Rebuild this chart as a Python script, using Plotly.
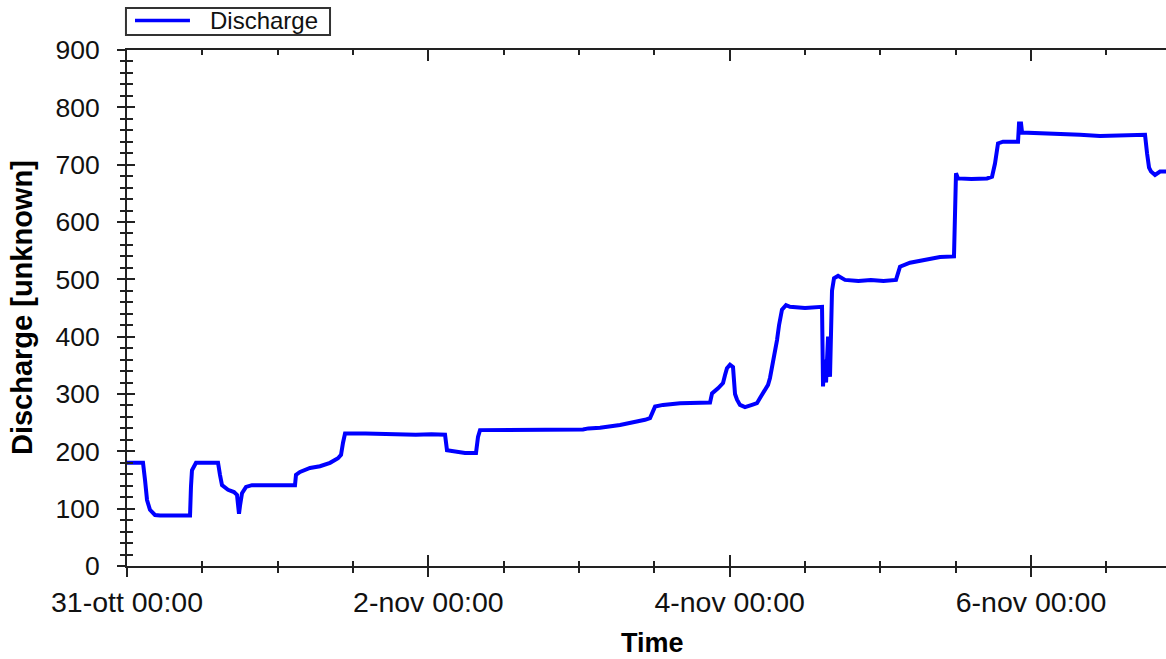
import pandas as pd
import plotly.graph_objects as go

# Discharge series: hours after 31 Oct 00:00 and the measured value
start = pd.Timestamp("2022-10-31 00:00")
hours = [
    0.0, 2.55, 2.87, 3.19, 3.66, 4.46, 5.26, 10.04, 10.19, 10.35, 10.99, 14.50,
    14.81, 15.13, 16.09, 17.04, 17.52, 17.68, 17.84, 18.00, 18.16, 18.32, 18.96,
    19.91, 26.76, 26.92, 27.56, 29.15, 30.74, 32.34, 33.61, 34.09, 34.41, 34.73,
    38.0, 40.5, 43.49, 46.0, 48.5, 50.66, 50.97, 52.25, 53.84, 55.59, 55.91,
    56.23, 64.0, 72.64, 73.5, 75.35, 78.53, 80.12, 82.51, 83.31, 84.11, 85.38,
    88.09, 92.87, 93.19, 94.14, 94.94, 95.26, 95.57, 96.05, 96.53, 96.85, 97.17,
    97.64, 98.44, 99.56, 100.35, 100.83, 101.63, 102.11, 102.42, 102.90, 103.22,
    103.54, 103.86, 104.33, 104.97, 105.61, 108.0, 110.71, 110.87, 111.03,
    111.35, 111.67, 111.98, 112.14, 112.30, 112.62, 113.26, 114.37, 116.5,
    118.5, 120.5, 122.49, 123.13, 124.72, 127.11, 129.50, 131.73, 131.89,
    132.05, 132.37, 134.5, 136.99, 137.79, 138.26, 138.74, 139.54, 141.93,
    142.09, 142.41, 142.57, 145.43, 148.62, 151.80, 154.99, 158.18, 162.16,
    162.48, 162.80, 163.12, 163.75, 164.55, 166.15,
]
discharge = [
    180, 180, 150, 115, 98, 89, 88, 88, 138, 167, 180, 180,
    159, 141, 133, 129, 124, 110, 91, 105, 120, 127, 138,
    141, 141, 159, 164, 171, 174, 180, 188, 194, 215, 231,
    231, 230, 230, 229, 230, 229, 202, 199, 197, 197, 225,
    237, 238, 238, 240, 241, 246, 249, 255, 258, 278, 281,
    284, 285, 301, 310, 319, 333, 345, 351, 347, 300, 290,
    281, 277, 281, 284, 293, 307, 316, 328, 356, 373,
    394, 420, 447, 455, 452, 450, 452, 313,
    360, 320, 400, 330, 420, 480, 502, 506, 499, 497,
    499, 497, 499, 522, 529, 534, 539, 540, 620,
    685, 676, 675, 676, 679, 702, 737, 740, 740,
    772, 772, 756, 755, 754, 752, 750, 751, 752,
    720, 695, 688, 682, 688, 688,
]
times = [start + pd.Timedelta(hours=h) for h in hours]

# Axis settings
x_end = start + pd.Timedelta(hours=165.5)
major_ticks = [start + pd.Timedelta(days=d) for d in (0, 2, 4, 6)]
major_labels = ["31-ott 00:00", "2-nov 00:00", "4-nov 00:00", "6-nov 00:00"]
y_ticks = list(range(0, 901, 100))

FONT = "Liberation Sans, Arial, sans-serif"
AXIS_COLOR = "#222222"

fig = go.Figure()
fig.add_trace(go.Scatter(
    x=times, y=discharge, mode="lines", name="Discharge",
    line=dict(color="#0000FF", width=4), showlegend=False,
))
# empty trace so the inner-tick overlay axes get drawn
fig.add_trace(go.Scatter(x=[], y=[], xaxis="x2", yaxis="y2", showlegend=False))

common_x = dict(type="date", range=[start, x_end], showgrid=False, zeroline=False)
common_y = dict(range=[0, 900], showgrid=False, zeroline=False)

fig.update_layout(
    width=1166, height=659,
    margin=dict(l=127, r=0, t=50, b=93),
    plot_bgcolor="white", paper_bgcolor="white",
    font=dict(family=FONT, size=27, color="#111111"),
    xaxis=dict(
        **common_x,
        showline=True, linecolor=AXIS_COLOR, linewidth=2, mirror=True,
        tickmode="array", tickvals=major_ticks, ticktext=major_labels,
        ticks="outside", ticklen=9, tickwidth=2, tickcolor=AXIS_COLOR,
        ticklabelstandoff=1,
        tickfont=dict(family=FONT, size=28.5, color="#111111"),
        minor=dict(ticks="outside", ticklen=5, tickwidth=2, tickcolor=AXIS_COLOR,
                   dtick=12 * 3600 * 1000, tick0=start),
    ),
    xaxis2=dict(
        **common_x, overlaying="x", anchor="y2", side="bottom",
        showline=False, showticklabels=False, mirror="ticks",
        tickmode="array", tickvals=major_ticks,
        ticks="inside", ticklen=11, tickwidth=2, tickcolor=AXIS_COLOR,
        minor=dict(ticks="inside", ticklen=5, tickwidth=2, tickcolor=AXIS_COLOR,
                   dtick=12 * 3600 * 1000, tick0=start),
    ),
    yaxis=dict(
        **common_y,
        showline=True, linecolor=AXIS_COLOR, linewidth=2,
        tickmode="array", tickvals=y_ticks,
        ticks="outside", ticklen=8, tickwidth=2, tickcolor=AXIS_COLOR,
        ticklabelstandoff=12,
        tickfont=dict(family=FONT, size=26.5, color="#111111"),
        minor=dict(ticks="outside", ticklen=5, tickwidth=2, tickcolor=AXIS_COLOR, dtick=20),
    ),
    yaxis2=dict(
        **common_y, overlaying="y", anchor="x2", side="left",
        showline=False, showticklabels=False,
        tickmode="array", tickvals=y_ticks,
        ticks="inside", ticklen=8, tickwidth=2, tickcolor=AXIS_COLOR,
        minor=dict(ticks="inside", ticklen=6, tickwidth=2, tickcolor=AXIS_COLOR, dtick=20),
    ),
)

# Axis titles
fig.add_annotation(text="<b>Time</b>", xref="paper", yref="paper", x=0.5053, y=-0.149,
                   xanchor="center", yanchor="middle", showarrow=False,
                   font=dict(family=FONT, size=27, color="black"))
fig.add_annotation(text="<b>Discharge [unknown]</b>", xref="paper", yref="paper",
                   x=-0.101, y=0.5, xanchor="center", yanchor="middle",
                   textangle=-90, showarrow=False,
                   font=dict(family=FONT, size=29, color="black"))

# Legend box above the plot
fig.add_shape(type="rect", xref="paper", yref="paper", x0=-0.001, x1=0.1954,
              y0=1.0291, y1=1.0814, line=dict(color="#333333", width=2),
              fillcolor="white", layer="above")
fig.add_shape(type="line", xref="paper", yref="paper", x0=0.0077, x1=0.0606,
              y0=1.0572, y1=1.0572, line=dict(color="#0000FF", width=3.5), layer="above")
fig.add_annotation(text="Discharge", xref="paper", yref="paper", x=0.078, y=1.0572,
                   xanchor="left", yanchor="middle", showarrow=False,
                   font=dict(family=FONT, size=24, color="#111111"))

fig.write_html("out.html")
